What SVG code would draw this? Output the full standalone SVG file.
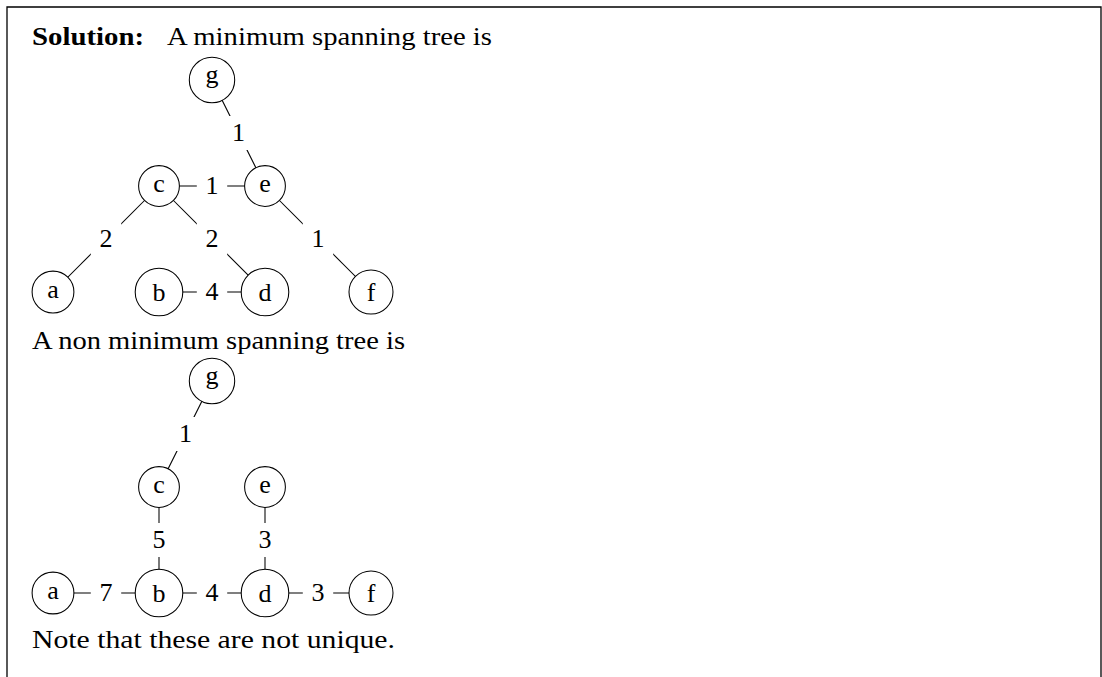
<svg xmlns="http://www.w3.org/2000/svg" width="1102" height="677" viewBox="0 0 1102 677">
  <style>
    text { font-family: "Liberation Serif", "Times New Roman", serif; font-size: 26px; fill: #000; }
    .bold { font-weight: bold; }
    .nd circle { fill: #fff; stroke: #000; stroke-width: 1.05; }
    .nd text, .lbl text { text-anchor: middle; }
    .edge { stroke: #000; stroke-width: 1.05; fill: none; }
    .lbl rect { fill: #fff; stroke: none; }
  </style>

  <!-- frame, open at the bottom -->
  <path d="M7,677 V7 H1101 V677" fill="none" stroke="#000" stroke-width="1.3"/>

  <!-- prose -->
  <text x="32" y="45"><tspan class="bold" textLength="112" lengthAdjust="spacingAndGlyphs">Solution:</tspan></text>
  <text x="167" y="45" textLength="325" lengthAdjust="spacingAndGlyphs">A minimum spanning tree is</text>
  <text x="32" y="349" textLength="373" lengthAdjust="spacingAndGlyphs">A non minimum spanning tree is</text>
  <text x="32" y="648" textLength="363" lengthAdjust="spacingAndGlyphs">Note that these are not unique.</text>

  <!-- ===== minimum spanning tree ===== -->
  <g id="mst-connectors">
    <line class="edge" x1="212" y1="80" x2="265" y2="186"/>
    <line class="edge" x1="159" y1="186" x2="265" y2="186"/>
    <line class="edge" x1="159" y1="186" x2="53" y2="292"/>
    <line class="edge" x1="159" y1="186" x2="265" y2="292"/>
    <line class="edge" x1="265" y1="186" x2="371" y2="292"/>
    <line class="edge" x1="159" y1="292" x2="265" y2="292"/>
    <g class="lbl">
      <rect x="223.3" y="116" width="30.4" height="34"/><text x="238.5" y="141.4">1</text>
      <rect x="196.8" y="169" width="30.4" height="34"/><text x="212" y="194.4">1</text>
      <rect x="90.8" y="222" width="30.4" height="34"/><text x="106" y="247.4">2</text>
      <rect x="196.8" y="222" width="30.4" height="34"/><text x="212" y="247.4">2</text>
      <rect x="302.8" y="222" width="30.4" height="34"/><text x="318" y="247.4">1</text>
      <rect x="196.8" y="275" width="30.4" height="34"/><text x="212" y="300.4">4</text>
    </g>
  </g>
  <g id="mst-g" class="nd"><circle cx="212" cy="80" r="22.7"/><text x="212" y="83.1">g</text></g>
  <g id="mst-c" class="nd"><circle cx="159" cy="186" r="20.4"/><text x="159" y="191.6">c</text></g>
  <g id="mst-e" class="nd"><circle cx="265" cy="186" r="20.4"/><text x="265" y="191.6">e</text></g>
  <g id="mst-a" class="nd"><circle cx="53" cy="292" r="20.9"/><text x="53" y="297.6">a</text></g>
  <g id="mst-b" class="nd"><circle cx="159" cy="292" r="23.8"/><text x="159" y="301">b</text></g>
  <g id="mst-d" class="nd"><circle cx="265" cy="292" r="23.8"/><text x="265" y="301">d</text></g>
  <g id="mst-f" class="nd"><circle cx="371" cy="292" r="22"/><text x="371" y="301">f</text></g>

  <!-- ===== non-minimum spanning tree ===== -->
  <g id="st-connectors">
    <line class="edge" x1="212" y1="381" x2="159" y2="487"/>
    <line class="edge" x1="159" y1="487" x2="159" y2="593"/>
    <line class="edge" x1="265" y1="487" x2="265" y2="593"/>
    <line class="edge" x1="53" y1="593" x2="371" y2="593"/>
    <g class="lbl">
      <rect x="170.3" y="417" width="30.4" height="34"/><text x="185.5" y="442.4">1</text>
      <rect x="143.8" y="523" width="30.4" height="34"/><text x="159" y="548.4">5</text>
      <rect x="249.8" y="523" width="30.4" height="34"/><text x="265" y="548.4">3</text>
      <rect x="90.8" y="576" width="30.4" height="34"/><text x="106" y="601.4">7</text>
      <rect x="196.8" y="576" width="30.4" height="34"/><text x="212" y="601.4">4</text>
      <rect x="302.8" y="576" width="30.4" height="34"/><text x="318" y="601.4">3</text>
    </g>
  </g>
  <g id="st-g" class="nd"><circle cx="212" cy="381" r="22.7"/><text x="212" y="384.1">g</text></g>
  <g id="st-c" class="nd"><circle cx="159" cy="487" r="20.4"/><text x="159" y="492.6">c</text></g>
  <g id="st-e" class="nd"><circle cx="265" cy="487" r="20.4"/><text x="265" y="492.6">e</text></g>
  <g id="st-a" class="nd"><circle cx="53" cy="593" r="20.9"/><text x="53" y="598.6">a</text></g>
  <g id="st-b" class="nd"><circle cx="159" cy="593" r="23.8"/><text x="159" y="602">b</text></g>
  <g id="st-d" class="nd"><circle cx="265" cy="593" r="23.8"/><text x="265" y="602">d</text></g>
  <g id="st-f" class="nd"><circle cx="371" cy="593" r="22"/><text x="371" y="602">f</text></g>
</svg>
